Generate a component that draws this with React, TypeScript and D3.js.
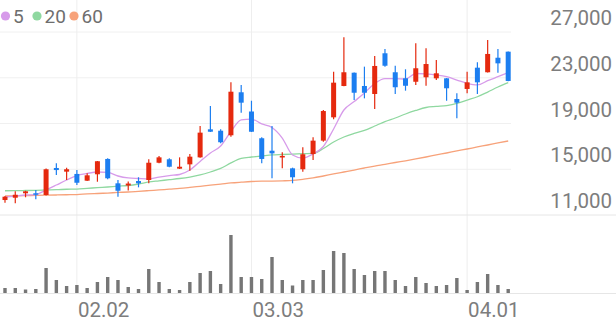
import React from "react";
import * as d3 from "d3";

// OHLC per trading day (index 0..49)
const opens = [12310,12510,12900,12900,12750,15110,14790,14590,14000,14560,15900,13770,13580,13970,14060,15570,15870,15050,15430,16040,18490,18370,17970,21730,20050,17710,16620,16040,15080,15000,16330,17500,19540,22280,23440,22280,21580,25140,23480,22950,22650,23040,22950,22950,21140,22020,23880,23480,24750,25280];
const highs = [12660,13070,13120,13190,15070,15520,15140,14930,14650,15720,15960,14060,13930,14300,15870,16160,15960,16040,16330,18780,20530,18490,22600,22370,20990,17790,18780,16480,15140,16920,17790,20180,23530,26540,23460,23970,24900,25510,24050,23740,26010,25570,24550,22970,21640,23530,24350,26300,25510,25300];
const lows = [12080,12020,12550,12370,12700,14500,14060,13620,13980,13910,14120,12600,13140,13420,13770,15520,15170,15020,14870,16000,18260,17270,17850,19940,18260,15520,14210,15080,13770,14790,15810,17410,19370,22250,21050,21200,20270,23970,21580,21870,22370,22300,22800,20990,19450,21640,21580,23460,23440,22700];
const closes = [12600,12770,13070,12770,15000,14930,15000,13820,14470,15700,14210,13120,13750,13770,15570,16040,15220,15220,16100,18200,18280,17360,21780,20820,18280,15900,16390,16160,14300,16310,17500,20090,22570,23480,21690,21690,24030,24050,22170,22300,23830,24200,23390,22080,20820,22600,22600,25080,24260,22720];
const volumes = [50000,50000,35000,40000,250000,130000,70000,80000,50000,110000,160000,130000,60000,40000,240000,110000,40000,30000,110000,200000,220000,90000,580000,160000,160000,140000,360000,130000,75000,130000,130000,230000,420000,400000,240000,180000,220000,220000,130000,70000,160000,100000,70000,80000,150000,30000,110000,190000,80000,40000];

// Moving averages as shown on the chart
const ma5 = [12570,12660,12750,12790,13190,13620,14060,14450,14630,14760,14720,14410,14240,14190,14150,14320,14450,14540,14930,15680,16420,17030,18300,19310,19390,18960,18650,17730,16250,15980,16330,16990,18520,20180,20920,21670,22500,22930,22930,22890,23370,23330,23240,23090,22800,22510,22370,22740,23090,23440];
const ma20 = [13120,13130,13140,13160,13190,13210,13250,13270,13330,13390,13450,13520,13580,13710,13890,13990,14090,14190,14320,14500,14760,15070,15550,15940,16070,16160,16250,16290,16330,16360,16380,16810,17380,17820,18130,18390,18780,19170,19480,19830,20140,20400,20490,20570,20750,21050,21340,21750,22190,22580];
const ma60 = [12660,12680,12700,12710,12730,12750,12770,12790,12840,12880,12920,12970,13010,13070,13130,13190,13260,13320,13410,13510,13610,13700,13800,13870,13930,13960,13970,13990,14020,14120,14240,14410,14590,14760,14930,15110,15280,15430,15590,15740,15900,16070,16250,16420,16600,16770,16950,17120,17300,17470];

const yTicks = [27000, 23000, 19000, 15000, 11000];
const xTickIndex = [7, 24, 45];
const xTickLabels = ["02.02", "03.03", "04.01"];

const legendLabels = ["5", "20", "60"];
const maColors = ["#d79bea", "#8fd8a0", "#f7a27a"];

const W = 616;
const H = 321;
const UP = "#e5290e";
const DOWN = "#1c7ef0";
const FONT = "Roboto, 'Noto Sans', sans-serif";

export default function App() {
  const n = closes.length;
  const x = d3.scaleLinear().domain([0, n - 1]).range([5, 508.2]);
  const y = d3.scaleLinear().domain([11000, 27000]).range([215, 32]);
  const yv = d3.scaleLinear().domain([0, 600000]).range([293, 233]);

  const line = d3
    .line<number>()
    .x((_, i) => x(i))
    .y((d) => y(d))
    .curve(d3.curveMonotoneX);

  const mas = [ma5, ma20, ma60];
  const bodyW = 5;
  const volW = 3.4;
  const gridRight = 511;

  return (
    <svg
      width={W}
      height={H}
      style={{ position: "absolute", left: 0, top: 0, background: "#fff" }}
      fontFamily={FONT}
    >
      {/* horizontal gridlines */}
      {yTicks.slice(0, 4).map((t) => (
        <line key={"g" + t} x1={0} x2={gridRight} y1={y(t)} y2={y(t)} stroke="#f0f0f0" strokeWidth={1} />
      ))}
      {/* vertical gridlines */}
      {xTickIndex.map((i) => (
        <line key={"v" + i} x1={x(i)} x2={x(i)} y1={0} y2={293} stroke="#eeeeee" strokeWidth={1} />
      ))}
      {/* separators */}
      <line x1={0} x2={W} y1={y(11000)} y2={y(11000)} stroke="#e6e6e6" strokeWidth={1} />
      <line x1={0} x2={W} y1={293.5} y2={293.5} stroke="#e6e6e6" strokeWidth={1} />

      {/* volume bars */}
      {volumes.map((v, i) => (
        <rect key={"vb" + i} x={x(i) - volW / 2} y={yv(v)} width={volW} height={yv(0) - yv(v)} fill="#767676" />
      ))}

      {/* moving averages */}
      {mas.map((m, k) => (
        <path key={"ma" + k} d={line(m) || ""} fill="none" stroke={maColors[k]} strokeWidth={1.3} />
      )).reverse()}

      {/* candles */}
      {closes.map((c, i) => {
        const o = opens[i];
        const up = c >= o;
        const col = up ? UP : DOWN;
        const top = y(Math.max(o, c));
        const bot = y(Math.min(o, c));
        return (
          <g key={"c" + i}>
            <line x1={x(i)} x2={x(i)} y1={y(highs[i])} y2={y(lows[i])} stroke={col} strokeWidth={1.2} />
            <rect x={x(i) - bodyW / 2} y={top} width={bodyW} height={Math.max(1.5, bot - top)} fill={col} />
          </g>
        );
      })}

      {/* y axis labels */}
      {yTicks.map((t) => (
        <text key={"yl" + t} x={612} y={y(t) - 7} textAnchor="end" fontSize={20.5} fill="#7d7d7d">
          {d3.format(",")(t)}
        </text>
      ))}

      {/* x axis labels */}
      {xTickIndex.map((idx, k) => (
        <text key={"xl" + idx} x={x(idx) + 1} y={317} textAnchor="start" fontSize={20.5} fill="#7d7d7d">
          {xTickLabels[k]}
        </text>
      ))}

      {/* legend */}
      {legendLabels.map((lab, k) => {
        const cx = [5.5, 37, 74][k];
        return (
          <g key={"lg" + k}>
            <circle cx={cx} cy={16} r={4.6} fill={maColors[k]} />
            <text x={cx + 7.5} y={23} fontSize={19} fill="#6e6e6e">
              {lab}
            </text>
          </g>
        );
      })}
    </svg>
  );
}
